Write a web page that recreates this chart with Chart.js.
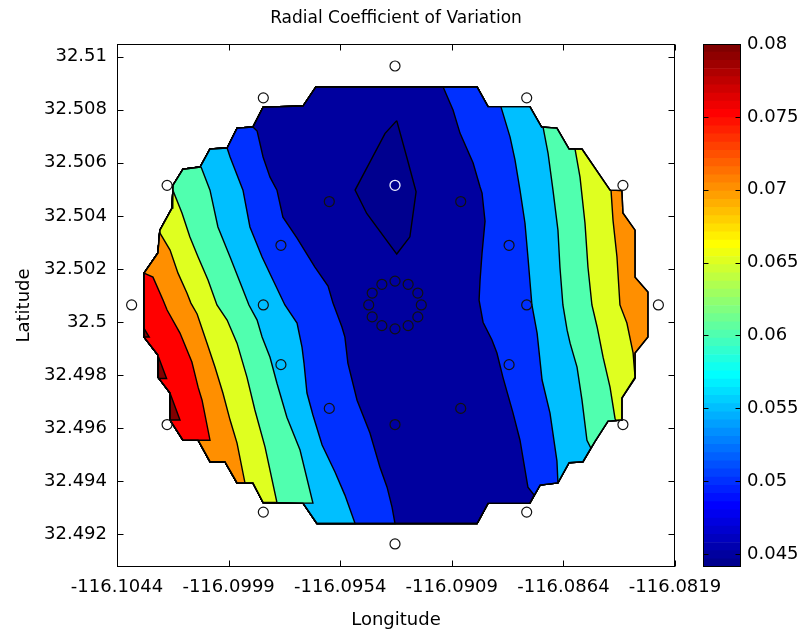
<!DOCTYPE html>
<html><head><meta charset="utf-8">
<script src="https://cdn.jsdelivr.net/npm/chart.js@4.4.1/dist/chart.umd.min.js"></script>
<style>
html,body{margin:0;padding:0;background:#fff;}
#wrap{position:relative;width:800px;height:635px;background:#fff;}
canvas{position:absolute;left:0;top:0;}
</style></head><body>
<div id="wrap"><canvas id="main" width="800" height="635"></canvas><canvas id="cbar" width="800" height="635"></canvas></div>
<script>
// ---------- axis data ----------
const xMin = -116.1044, xMax = -116.0819;
const yMin = 32.49076, yMax = 32.51048;
const xTicks = [-116.1044, -116.0999, -116.0954, -116.0909, -116.0864, -116.0819];
const yTicks = [32.492, 32.494, 32.496, 32.498, 32.5, 32.502, 32.504, 32.506, 32.508, 32.51];
const cbTicks = [0.045, 0.05, 0.055, 0.06, 0.065, 0.07, 0.075, 0.08];
const cMin = 0.0441, cMax = 0.0800;
const levels = [0.045, 0.05, 0.055, 0.06, 0.065, 0.07, 0.075, 0.08];

// ---------- outline of the interpolated area ----------
const boundaryLon = [-116.09638, -116.08988, -116.08944, -116.08775, -116.08728, -116.08666, -116.08617, -116.08565, -116.08452, -116.08404,
 -116.08400, -116.08351, -116.08351, -116.08299, -116.08299, -116.08351, -116.08351, -116.08404, -116.08404, -116.08460,
 -116.08513, -116.08561, -116.08617, -116.08662, -116.08734, -116.08775, -116.08944, -116.08988, -116.09634, -116.09690,
 -116.09851, -116.09892, -116.09956, -116.10005, -116.10065, -116.10113, -116.10174, -116.10226, -116.10226, -116.10275,
 -116.10275, -116.10331, -116.10331, -116.10275, -116.10267, -116.10218, -116.10214, -116.10174, -116.10105, -116.10065,
 -116.09996, -116.09956, -116.09892, -116.09851, -116.09690];
const boundaryLat = [32.50886, 32.50886, 32.50812, 32.50812, 32.50735, 32.50731, 32.50652, 32.50652, 32.50497, 32.50495,
 32.50411, 32.50346, 32.50169, 32.50113, 32.49943, 32.49883, 32.49788, 32.49713, 32.49630, 32.49626,
 32.49549, 32.49473, 32.49469, 32.49393, 32.49385, 32.49317, 32.49316, 32.49240, 32.49240, 32.49317,
 32.49319, 32.49393, 32.49393, 32.49473, 32.49473, 32.49554, 32.49554, 32.49630, 32.49732, 32.49792,
 32.49875, 32.49943, 32.50184, 32.50260, 32.50346, 32.50429, 32.50516, 32.50576, 32.50584, 32.50652,
 32.50656, 32.50731, 32.50735, 32.50810, 32.50814];

// ---------- contour lines (top -> bottom) ----------
const aLon = [-116.10331, -116.10295, -116.10254, -116.10238, -116.10186, -116.10138, -116.10113, -116.10097, -116.10065];
const aLat = [32.50184, 32.50169, 32.50082, 32.50045, 32.49958, 32.49849, 32.49754, 32.49705, 32.49554];
const bLon = [-116.10269, -116.10226, -116.10194, -116.10158, -116.10142, -116.10117, -116.10077, -116.10045, -116.10013, -116.09984, -116.09956, -116.09924];
const bLat = [32.50339, 32.50271, 32.50184, 32.50109, 32.50071, 32.50030, 32.49920, 32.49830, 32.49732, 32.49630, 32.49543, 32.49393];
const cLon = [-116.10215, -116.10178, -116.10146, -116.10113, -116.10073, -116.10037, -116.09996, -116.09956, -116.09916, -116.09884, -116.09843, -116.09795];
const cLat = [32.50497, 32.50411, 32.50320, 32.50245, 32.50158, 32.50064, 32.50007, 32.49920, 32.49792, 32.49668, 32.49528, 32.49319];
const dLon = [-116.10101, -116.10065, -116.10033, -116.09984, -116.09936, -116.09908, -116.09875, -116.09855, -116.09823, -116.09795, -116.09755, -116.09702, -116.09650];
const dLat = [32.50584, 32.50497, 32.50358, 32.50245, 32.50131, 32.50064, 32.50007, 32.49943, 32.49867, 32.49769, 32.49641, 32.49517, 32.49317];
const eLon = [-116.09996, -116.09984, -116.09932, -116.09904, -116.09855, -116.09811, -116.09763, -116.09714, -116.09694, -116.09686, -116.09674, -116.09650, -116.09613, -116.09561, -116.09521, -116.09480];
const eLat = [32.50656, 32.50622, 32.50497, 32.50358, 32.50245, 32.50158, 32.50064, 32.49996, 32.49905, 32.49845, 32.49732, 32.49649, 32.49536, 32.49434, 32.49347, 32.49240];
const fLon = [-116.09892, -116.09875, -116.09851, -116.09823, -116.09795, -116.09771, -116.09714, -116.09642, -116.09589, -116.09569, -116.09533, -116.09521, -116.09509, -116.09472, -116.09420, -116.09380, -116.09351, -116.09331, -116.09319];
const fLat = [32.50735, 32.50720, 32.50622, 32.50546, 32.50497, 32.50395, 32.50316, 32.50207, 32.50135, 32.50071, 32.49981, 32.49943, 32.49845, 32.49705, 32.49581, 32.49453, 32.49377, 32.49302, 32.49240];
const gLon = [-116.09125, -116.09085, -116.09057, -116.09004, -116.08976, -116.08968, -116.08956, -116.08968, -116.08976, -116.08980, -116.08964, -116.08928, -116.08908, -116.08884, -116.08843, -116.08815, -116.08783, -116.08758];
const gLat = [32.50886, 32.50799, 32.50712, 32.50599, 32.50509, 32.50486, 32.50380, 32.50260, 32.50158, 32.50082, 32.49999, 32.49932, 32.49883, 32.49792, 32.49656, 32.49554, 32.49377, 32.49347];
const hLon = [-116.08892, -116.08855, -116.08835, -116.08815, -116.08795, -116.08783, -116.08767, -116.08746, -116.08726, -116.08694, -116.08666, -116.08662];
const hLat = [32.50812, 32.50697, 32.50610, 32.50497, 32.50373, 32.50245, 32.50064, 32.49958, 32.49781, 32.49656, 32.49475, 32.49393];
const iLon = [-116.08722, -116.08702, -116.08682, -116.08662, -116.08654, -116.08642, -116.08625, -116.08613, -116.08585, -116.08565, -116.08545, -116.08529];
const iLat = [32.50735, 32.50637, 32.50497, 32.50346, 32.50207, 32.50064, 32.49969, 32.49920, 32.49830, 32.49705, 32.49554, 32.49524];
const jLon = [-116.08593, -116.08573, -116.08553, -116.08541, -116.08525, -116.08504, -116.08480, -116.08452, -116.08432, -116.08428];
const jLat = [32.50652, 32.50546, 32.50373, 32.50207, 32.50064, 32.49981, 32.49867, 32.49754, 32.49637, 32.49627];
const kLon = [-116.08448, -116.08440, -116.08424, -116.08412, -116.08384, -116.08359, -116.08351];
const kLat = [32.50497, 32.50384, 32.50245, 32.50064, 32.49996, 32.49883, 32.49792];

// closed minimum region and small maxima patches
const minLon = [-116.09312, -116.09272, -116.09234, -116.09259, -116.09312, -116.09433, -116.09480, -116.09359];
const minLat = [32.50759, 32.50623, 32.50491, 32.50321, 32.50256, 32.50409, 32.50497, 32.50711];
const max1Lon = [-116.10331, -116.10331, -116.10310], max1Lat = [32.49976, 32.49943, 32.49943];
const max2Lon = [-116.10273, -116.10273, -116.10240], max2Lat = [32.49869, 32.49787, 32.49787];
const max3Lon = [-116.10226, -116.10226, -116.10186], max3Lat = [32.49731, 32.49630, 32.49630];

// measurement sites
const siteLon = [-116.08257, -116.08400, -116.08788, -116.09319, -116.09850, -116.10238, -116.10381, -116.10238, -116.09850, -116.09319, -116.08788, -116.08400,
 -116.08788, -116.08859, -116.09054, -116.09584, -116.09779, -116.09850, -116.09779, -116.09584, -116.09319, -116.09054, -116.08859,
 -116.09213, -116.09227, -116.09266, -116.09319, -116.09372, -116.09411, -116.09425, -116.09411, -116.09372, -116.09319, -116.09266, -116.09227];
const siteLat = [32.50064, 32.50515, 32.50845, 32.50965, 32.50845, 32.50515, 32.50064, 32.49613, 32.49283, 32.49163, 32.49283, 32.49613,
 32.50064, 32.50289, 32.50454, 32.50454, 32.50289, 32.50064, 32.49839, 32.49674, 32.49613, 32.49674, 32.49839,
 32.50064, 32.50109, 32.50142, 32.50154, 32.50142, 32.50109, 32.50064, 32.50019, 32.49986, 32.49974, 32.49986, 32.50019];
const minSiteLon = [-116.09319], minSiteLat = [32.50515];

// ---------- colormap (MATLAB jet, 64 entries) ----------
function jet(j) { // j = 1..64
  const r = j < 25 ? 0 : j <= 40 ? (j - 24) / 16 : j <= 56 ? 1 : (72 - j) / 16;
  const g = j < 9 ? 0 : j <= 24 ? (j - 8) / 16 : j <= 40 ? 1 : j <= 55 ? (56 - j) / 16 : 0;
  const b = j <= 8 ? (j + 8) / 16 : j <= 24 ? 1 : j <= 39 ? (40 - j) / 16 : 0;
  return `rgb(${Math.round(r*255)},${Math.round(g*255)},${Math.round(b*255)})`;
}
function colorOf(v) {
  const j = Math.min(64, Math.max(1, Math.floor((v - cMin) / (cMax - cMin) * 64) + 1));
  return jet(j);
}

// ---------- build datasets ----------
const pts = (lons, lats) => lons.map((x, i) => ({x, y: lats[i]}));
const boundaryPts = pts(boundaryLon, boundaryLat);
function closed(p) { return p.concat([p[0]]); }
function leftRegion(lons, lats, from, to) {
  const p = pts(lons, lats);
  let i = from;
  for (;;) { p.push(boundaryPts[i]); if (i === to) break; i = (i + 1) % boundaryPts.length; }
  return closed(p);
}
const contourLines = [
  {lon: kLon, lat: kLat, from: 17, to: 8, left: levels[4]},
  {lon: jLon, lat: jLat, from: 19, to: 6, left: levels[3]},
  {lon: iLon, lat: iLat, from: 21, to: 4, left: levels[2]},
  {lon: hLon, lat: hLat, from: 24, to: 2, left: levels[1]},
  {lon: gLon, lat: gLat, from: 25, to: 0, left: levels[0]},
  {lon: fLon, lat: fLat, from: 28, to: 51, left: levels[1]},
  {lon: eLon, lat: eLat, from: 28, to: 49, left: levels[2]},
  {lon: dLon, lat: dLat, from: 29, to: 48, left: levels[3]},
  {lon: cLon, lat: cLat, from: 30, to: 45, left: levels[4]},
  {lon: bLon, lat: bLat, from: 32, to: 43, left: levels[5]},
  {lon: aLon, lat: aLat, from: 35, to: 41, left: levels[6]},
];

const poly = (data, fillColor, border) => ({
  data, showLine: true, fill: fillColor ? 'shape' : false,
  backgroundColor: fillColor || 'rgba(0,0,0,0)',
  borderColor: border ? '#000' : 'rgba(0,0,0,0)', borderWidth: 1.4,
  pointRadius: 0, tension: 0, borderJoinStyle: 'miter'
});

const drawList = [];
drawList.push(poly(closed(boundaryPts.slice()), colorOf(levels[5]), true));
for (const c of contourLines) drawList.push(poly(leftRegion(c.lon, c.lat, c.from, c.to), colorOf(c.left), true));
drawList.push(poly(closed(pts(minLon, minLat)), colorOf(cMin), true));
drawList.push(poly(closed(pts(max1Lon, max1Lat)), colorOf(levels[7]), true));
drawList.push(poly(closed(pts(max2Lon, max2Lat)), colorOf(levels[7]), true));
drawList.push(poly(closed(pts(max3Lon, max3Lat)), colorOf(levels[7]), true));
drawList.push(poly(closed(boundaryPts.slice()), null, true));
drawList.push({data: pts(siteLon, siteLat), showLine: false, pointRadius: 5, pointBorderWidth: 1.2,
  pointBorderColor: '#111', pointBackgroundColor: 'rgba(0,0,0,0)'});
drawList.push({data: pts(minSiteLon, minSiteLat), showLine: false, pointRadius: 5, pointBorderWidth: 1.3,
  pointBorderColor: '#eef0ff', pointBackgroundColor: 'rgba(0,0,0,0)'});
drawList.forEach((d, i) => { d.order = drawList.length - i; });

// ---------- frame + inward ticks ----------
const boxTicks = {
  id: 'boxTicks',
  afterDatasetsDraw(chart, args, opts) {
    const {ctx, chartArea: a, scales} = chart;
    const L = Math.round(a.left) + 0.5, R = Math.round(a.right) - 0.5;
    const T = Math.round(a.top) + 0.5, B = Math.round(a.bottom) - 0.5;
    ctx.save();
    ctx.strokeStyle = '#000'; ctx.lineWidth = 1;
    ctx.beginPath();
    (opts.xTicks || []).forEach(v => {
      const px = Math.round(scales.x.getPixelForValue(v)) + 0.5;
      ctx.moveTo(px, B); ctx.lineTo(px, B - opts.len);
      ctx.moveTo(px, T); ctx.lineTo(px, T + opts.len);
    });
    (opts.yTicks || []).forEach(v => {
      const py = Math.round(scales.y.getPixelForValue(v)) + 0.5;
      ctx.moveTo(L, py); ctx.lineTo(L + opts.len, py);
      ctx.moveTo(R, py); ctx.lineTo(R - opts.len, py);
    });
    ctx.stroke();
    ctx.strokeRect(L, T, R - L, B - T);
    ctx.restore();
  }
};

Chart.defaults.font.family = "'DejaVu Sans', sans-serif";
Chart.defaults.font.size = 18;
Chart.defaults.color = '#000';

new Chart(document.getElementById('main'), {
  type: 'scatter',
  data: {datasets: drawList},
  options: {
    responsive: false, animation: false, events: [], devicePixelRatio: 1,
    layout: {padding: {left: 0, right: 125, top: 0, bottom: 0}},
    plugins: {
      legend: {display: false}, tooltip: {enabled: false},
      title: {display: true, text: 'Radial Coefficient of Variation', fullSize: false, color: '#000',
        font: {size: 17, weight: 'normal'}, padding: {top: 8, bottom: 15.6}},
      boxTicks: {xTicks, yTicks, len: 6}
    },
    scales: {
      x: {type: 'linear', min: xMin, max: xMax,
        grid: {display: false, drawTicks: false}, border: {display: false},
        afterBuildTicks: s => { s.ticks = xTicks.map(v => ({value: v})); },
        afterFit: s => { s.height = 68; },
        ticks: {callback: v => String(v), maxRotation: 0, minRotation: 0, autoSkip: false, padding: 10, color: '#000'},
        title: {display: true, text: 'Longitude', color: '#000', padding: {top: 0, bottom: 4}}},
      y: {type: 'linear', min: yMin, max: yMax,
        grid: {display: false, drawTicks: false}, border: {display: false},
        afterBuildTicks: s => { s.ticks = yTicks.map(v => ({value: v})); },
        afterFit: s => { s.width = 117; },
        ticks: {callback: v => String(v), autoSkip: false, padding: 10, color: '#000'},
        title: {display: true, text: 'Latitude', color: '#000', padding: {top: 14, bottom: 0}}}
    }
  },
  plugins: [boxTicks]
});

// ---------- colorbar ----------
const cbDatasets = [];
for (let j = 1; j <= 64; j++) {
  const lo = cMin + (j - 1) * (cMax - cMin) / 64, hi = cMin + j * (cMax - cMin) / 64;
  cbDatasets.push({data: [[lo, hi]], backgroundColor: jet(j), borderWidth: 0,
    barPercentage: 1, categoryPercentage: 1, grouped: false});
}
new Chart(document.getElementById('cbar'), {
  type: 'bar',
  data: {labels: [''], datasets: cbDatasets},
  options: {
    responsive: false, animation: false, events: [], devicePixelRatio: 1,
    layout: {padding: {left: 703, right: 0, top: 44, bottom: 68}},
    plugins: {legend: {display: false}, tooltip: {enabled: false}, title: {display: false},
      boxTicks: {yTicks: cbTicks, len: 5}},
    scales: {
      x: {display: false},
      y: {position: 'right', min: cMin, max: cMax,
        grid: {display: false, drawTicks: false}, border: {display: false},
        afterBuildTicks: s => { s.ticks = cbTicks.map(v => ({value: v})); },
        afterFit: s => { s.width = 59; },
        ticks: {callback: v => String(v), autoSkip: false, padding: 6, color: '#000'}}
    }
  },
  plugins: [boxTicks]
});
</script>
</body></html>
